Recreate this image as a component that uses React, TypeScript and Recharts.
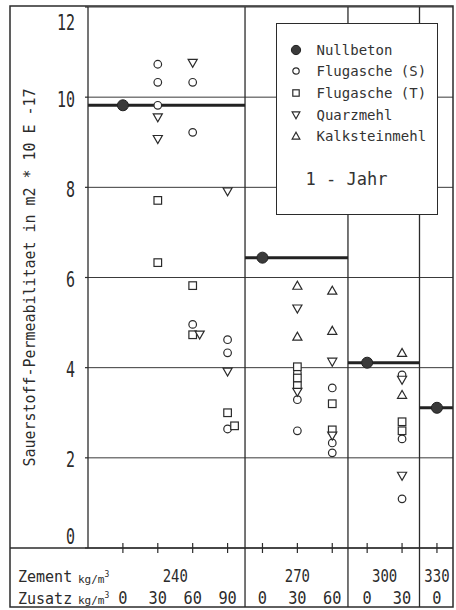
import React from "react";
import { ScatterChart, Scatter, XAxis, YAxis, CartesianGrid, ReferenceLine, ReferenceDot, Legend, Label } from "recharts";

// x = position of the Zusatz column (1..10), y = permeability
const zementLabels = ["240", "270", "300", "330"];
const groupFirst = [1, 5, 8, 10];
const groupLast = [4, 7, 9, 10];
const groupBounds = [0, 4.5, 7.45, 9.5, 10.46];
const zusatzLabels = ["0", "30", "60", "90", "0", "30", "60", "0", "30", "0"];
const xTicks = [1, 2, 3, 4, 5, 6, 7, 8, 9, 10];
const yTicks = [0, 2, 4, 6, 8, 10, 12];

const nullbeton = [
  { x: 1, y: 9.82 },
  { x: 5, y: 6.44 },
  { x: 8, y: 4.11 },
  { x: 10, y: 3.11 },
];

const flugascheS = [
  { x: 2, y: 10.73 }, { x: 2, y: 10.33 }, { x: 2, y: 9.82 },
  { x: 3, y: 10.33 }, { x: 3, y: 9.22 }, { x: 3, y: 4.96 },
  { x: 4, y: 4.62 }, { x: 4, y: 4.33 }, { x: 4, y: 2.64 },
  { x: 6, y: 3.89 }, { x: 6, y: 3.29 }, { x: 6, y: 2.6 },
  { x: 7, y: 3.55 }, { x: 7, y: 2.33 }, { x: 7, y: 2.11 },
  { x: 9, y: 3.84 }, { x: 9, y: 2.42 }, { x: 9, y: 1.09 },
];

const flugascheT = [
  { x: 2, y: 7.71 }, { x: 2, y: 6.33 },
  { x: 3, y: 5.82 }, { x: 3, y: 4.73 },
  { x: 4, y: 3.0 }, { x: 4.2, y: 2.71 },
  { x: 6, y: 4.02 }, { x: 6, y: 3.77 }, { x: 6, y: 3.6 },
  { x: 7, y: 3.2 }, { x: 7, y: 2.62 },
  { x: 9, y: 2.8 }, { x: 9, y: 2.6 },
];

const quarzmehl = [
  { x: 2, y: 9.55 }, { x: 2, y: 9.07 },
  { x: 3, y: 10.76 }, { x: 3.2, y: 4.73 },
  { x: 4, y: 7.91 }, { x: 4, y: 3.91 },
  { x: 6, y: 5.31 }, { x: 6, y: 3.46 },
  { x: 7, y: 4.13 }, { x: 7, y: 2.49 },
  { x: 9, y: 3.73 }, { x: 9, y: 1.6 },
];

const kalksteinmehl = [
  { x: 6, y: 5.82 }, { x: 6, y: 4.69 },
  { x: 7, y: 5.71 }, { x: 7, y: 4.82 },
  { x: 9, y: 4.33 }, { x: 9, y: 3.4 },
];

const legendItems = [
  { label: "Nullbeton", kind: "filled" },
  { label: "Flugasche (S)", kind: "circle" },
  { label: "Flugasche (T)", kind: "square" },
  { label: "Quarzmehl", kind: "down" },
  { label: "Kalksteinmehl", kind: "up" },
];

const INK = "#2b2b2b";
const FONT = "'DejaVu Sans Mono', monospace";

function Marker({ kind, cx, cy, s = 3.8 }: { kind: string; cx: number; cy: number; s?: number }) {
  const common = { fill: "#fff", stroke: INK, strokeWidth: 1.2 };
  if (kind === "filled") return <circle cx={cx} cy={cy} r={s * 1.45} fill="#3a3a3a" stroke="#222" strokeWidth={1} />;
  if (kind === "circle") return <circle cx={cx} cy={cy} r={s} {...common} />;
  if (kind === "square") return <rect x={cx - s} y={cy - s} width={2 * s} height={2 * s} {...common} />;
  if (kind === "down")
    return <path d={`M${cx - s * 1.2},${cy - s * 0.95} L${cx + s * 1.2},${cy - s * 0.95} L${cx},${cy + s * 1.15} Z`} {...common} />;
  return <path d={`M${cx - s * 1.2},${cy + s * 0.95} L${cx + s * 1.2},${cy + s * 0.95} L${cx},${cy - s * 1.15} Z`} {...common} />;
}

const shapeOf = (kind: string) => (p: any) => <Marker kind={kind} cx={p.cx} cy={p.cy} />;

const XTick = (props: any) => {
  const { x, y, payload } = props;
  const label = zusatzLabels[payload.value - 1] ?? "";
  return (
    <g>
      <line x1={x} x2={x} y1={y - 5} y2={y + 5} stroke={INK} strokeWidth={1.2} />
      <text x={x} y={y + 56} textAnchor="middle" fontFamily={FONT} fontSize={18} fill={INK}
        textLength={9.2 * label.length} lengthAdjust="spacingAndGlyphs">{label}</text>
    </g>
  );
};

const YTick = (props: any) => {
  const { x, y, payload } = props;
  const label = String(payload.value);
  const cy = Math.min(Math.max(y + 2, 22), 536);
  return (
    <g>
      <line x1={x - 3} x2={x} y1={y} y2={y} stroke={INK} strokeWidth={1.2} />
      <text x={x - 13} y={cy + 7.5} textAnchor="end" fontFamily={FONT} fontSize={20.5} fill={INK}
        textLength={9 * label.length} lengthAdjust="spacingAndGlyphs">{label}</text>
    </g>
  );
};

const YTitle = (props: any) => {
  const vb = props.viewBox || { x: 0, y: 7, width: 88, height: 541 };
  const tx = vb.x + 35;
  const ty = vb.y + vb.height / 2;
  return (
    <text x={tx} y={ty} transform={`rotate(-90, ${tx}, ${ty})`} textAnchor="middle" fontFamily={FONT}
      fontSize={16} fill={INK} textLength={378} lengthAdjust="spacingAndGlyphs">
      Sauerstoff-Permeabilitaet in m2 * 10 E -17
    </text>
  );
};

const renderLegend = () => (
  <div style={{ width: 162, height: 192, boxSizing: "border-box", border: `1.5px solid ${INK}`, background: "#fff", position: "relative", fontFamily: FONT, color: "#333" }}>
    {legendItems.map((it, i) => (
      <div key={it.label} style={{ position: "absolute", left: 10.5, top: 15.5 + i * 21.7, height: 20, display: "flex", alignItems: "center" }}>
        <svg width={16} height={16} style={{ display: "block" }}>
          <Marker kind={it.kind} cx={8} cy={8} s={3.2} />
        </svg>
        <span style={{ marginLeft: 13, fontSize: 14, whiteSpace: "nowrap" }}>{it.label}</span>
      </div>
    ))}
    <div style={{ position: "absolute", left: 28.5, top: 145, fontSize: 17, whiteSpace: "nowrap" }}>1 - Jahr</div>
  </div>
);

export default function App() {
  return (
    <div style={{ position: "absolute", left: 0, top: 0, width: 456, height: 610, background: "#fff" }}>
      <ScatterChart width={456} height={610} margin={{ top: 7, right: 3, bottom: 0, left: 0 }}>
        <CartesianGrid vertical={false} stroke="#3a3a3a" strokeWidth={1} />
        <XAxis dataKey="x" type="number" domain={[0, 10.46]} ticks={xTicks} interval={0} height={62}
          tickLine={false} tickSize={0} tickMargin={0} axisLine={{ stroke: INK, strokeWidth: 1.3 }} tick={XTick} allowDataOverflow />
        <YAxis dataKey="y" type="number" domain={[0, 12]} ticks={yTicks} interval={0} width={88}
          tickLine={false} tickSize={0} tickMargin={0} axisLine={{ stroke: INK, strokeWidth: 1.3 }} tick={YTick} allowDataOverflow>
          <Label content={YTitle} />
        </YAxis>
        {groupBounds.slice(1, 4).map((b) => (
          <ReferenceLine key={`sep-${b}`} segment={[{ x: b, y: 12 }, { x: b, y: -1.31 }]} ifOverflow="visible" stroke={INK} strokeWidth={1.3} />
        ))}
        {nullbeton.map((p, i) => (
          <ReferenceLine key={`nb-${i}`} segment={[{ x: groupBounds[i], y: p.y }, { x: groupBounds[i + 1], y: p.y }]} ifOverflow="visible" stroke="#222" strokeWidth={3} />
        ))}
        {zementLabels.map((z, i) => (
          <ReferenceDot key={`z-${z}`} x={(groupFirst[i] + groupLast[i]) / 2} y={-0.75} r={0} ifOverflow="visible"
            shape={(p: any) => (
              <text x={p.cx} y={p.cy} textAnchor="middle" fontFamily={FONT} fontSize={18} fill={INK}
                textLength={8.4 * z.length} lengthAdjust="spacingAndGlyphs">{z}</text>
            )} />
        ))}
        <Scatter name="Flugasche (S)" data={flugascheS} shape={shapeOf("circle")} isAnimationActive={false} />
        <Scatter name="Flugasche (T)" data={flugascheT} shape={shapeOf("square")} isAnimationActive={false} />
        <Scatter name="Quarzmehl" data={quarzmehl} shape={shapeOf("down")} isAnimationActive={false} />
        <Scatter name="Kalksteinmehl" data={kalksteinmehl} shape={shapeOf("up")} isAnimationActive={false} />
        <Scatter name="Nullbeton" data={nullbeton} shape={shapeOf("filled")} isAnimationActive={false} />
        <Legend content={renderLegend} layout="vertical" align="center" verticalAlign="middle"
          wrapperStyle={{ left: 276, top: 23, width: 162, height: 192 }} />
      </ScatterChart>
      <svg width={456} height={610} style={{ position: "absolute", left: 0, top: 0, pointerEvents: "none" }}>
        <rect x={10} y={6} width={443} height={601} fill="none" stroke={INK} strokeWidth={1.5} />
        <line x1={10} x2={88} y1={548} y2={548} stroke={INK} strokeWidth={1.3} />
        <g fontFamily={FONT} fill={INK}>
          <text x={18} y={582} fontSize={15}>Zement</text>
          <text x={78} y={583} fontSize={11}>kg/m<tspan dy={-6} fontSize={8}>3</tspan></text>
          <text x={18} y={604} fontSize={15}>Zusatz</text>
          <text x={78} y={604} fontSize={11}>kg/m<tspan dy={-6} fontSize={8}>3</tspan></text>
        </g>
      </svg>
    </div>
  );
}
